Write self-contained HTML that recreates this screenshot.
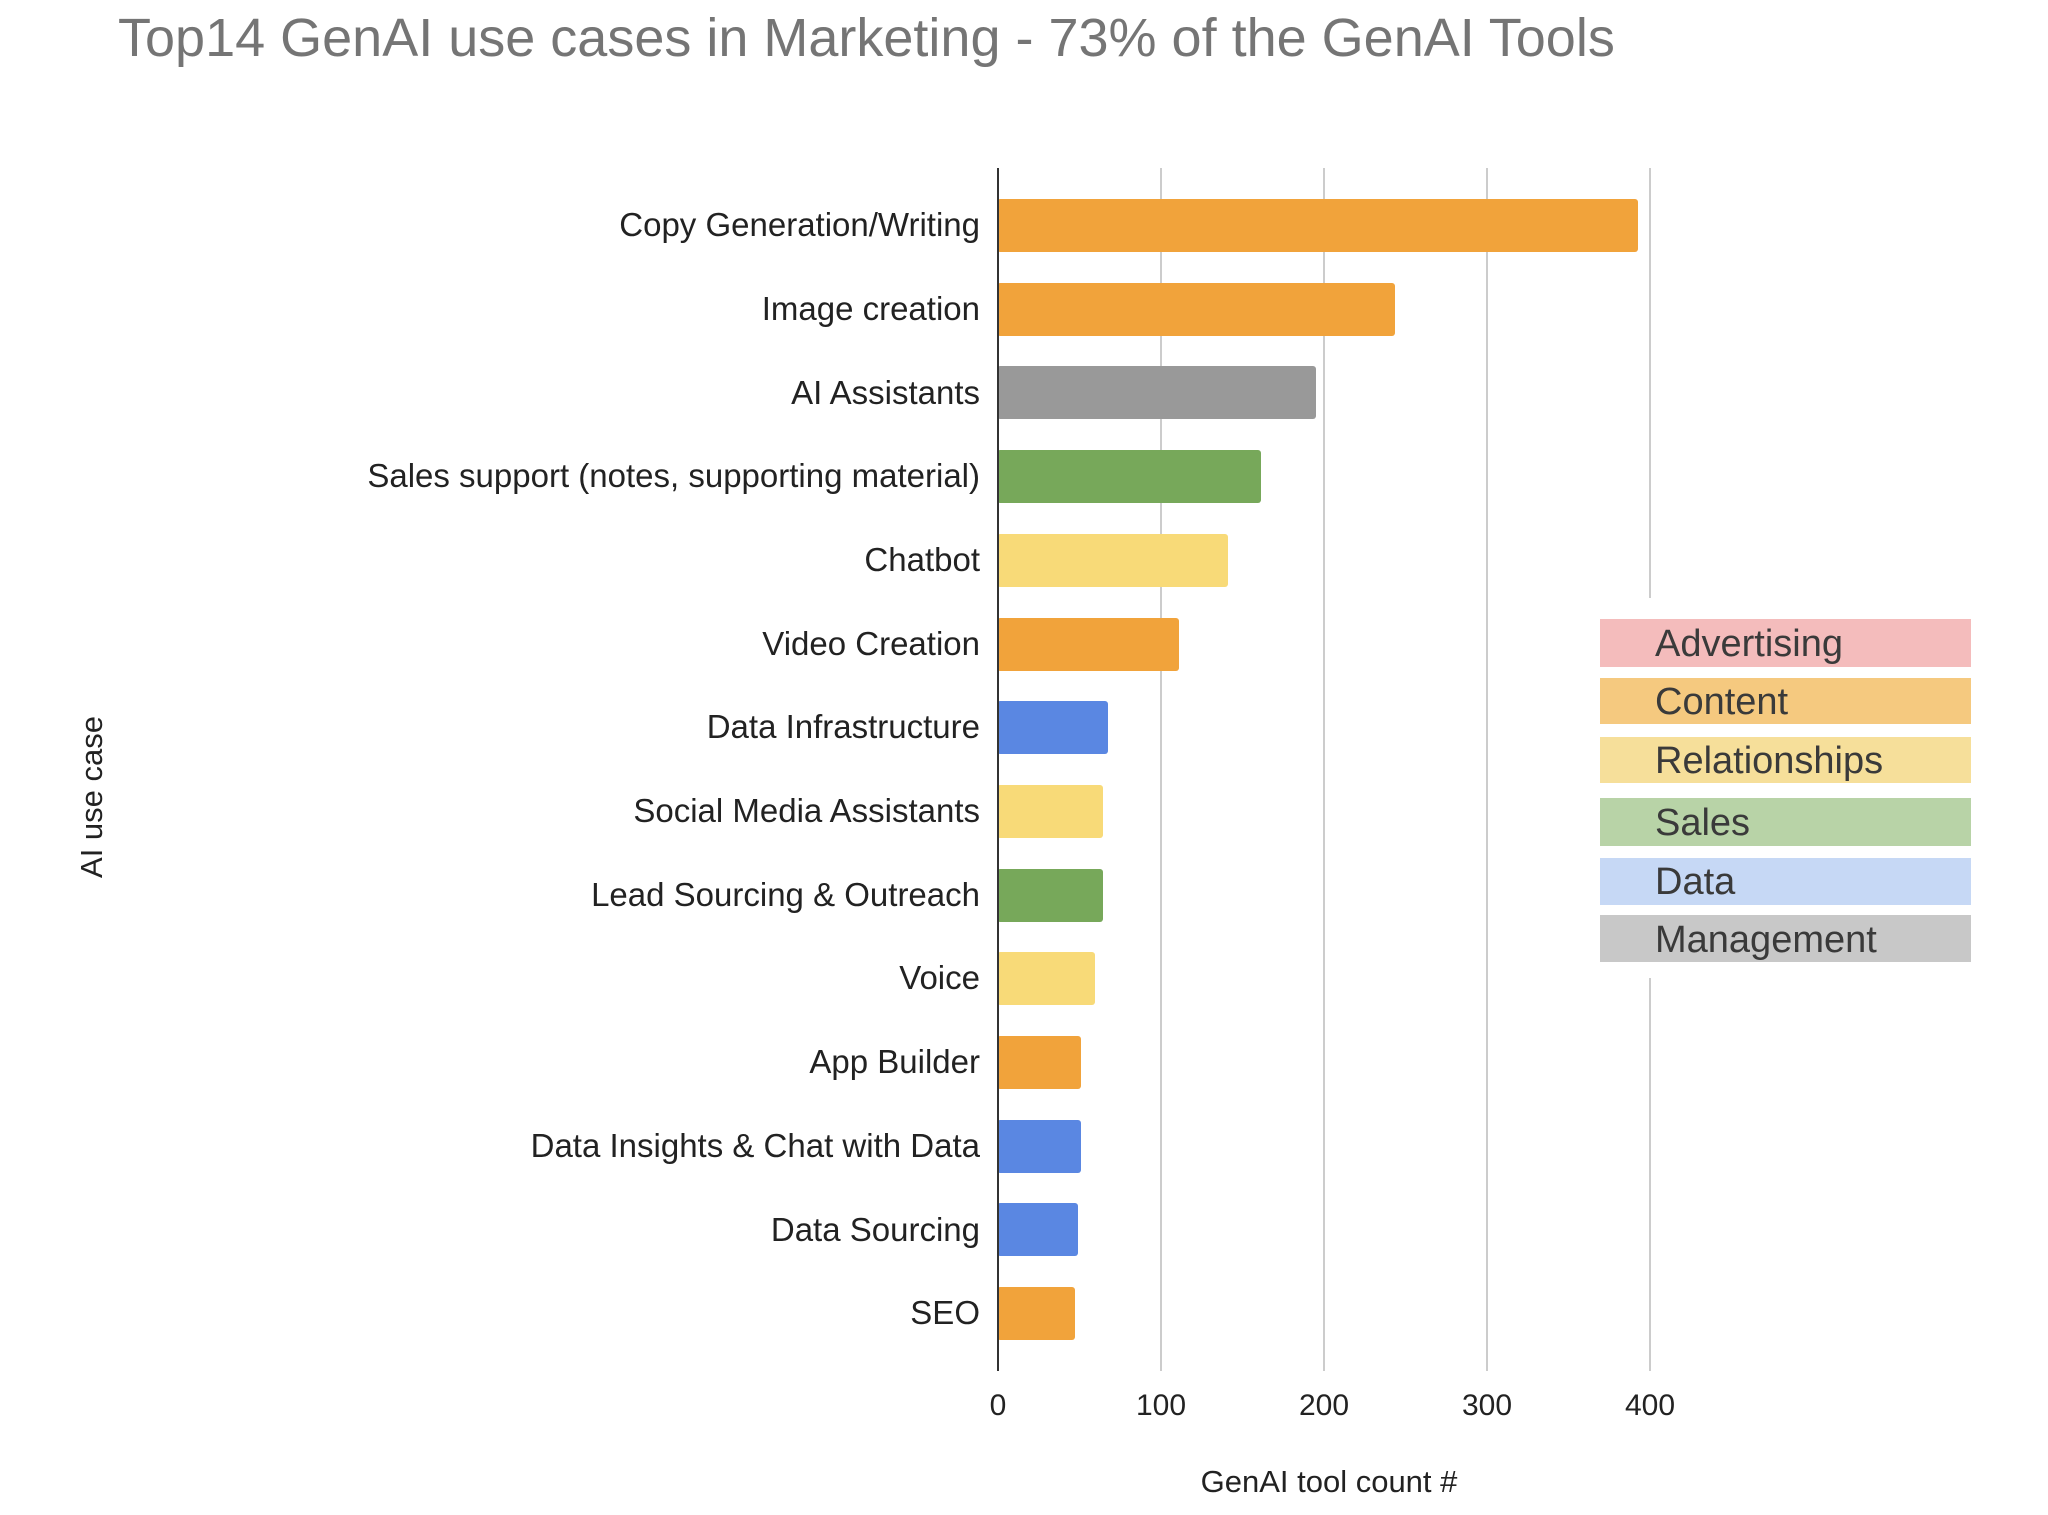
<!DOCTYPE html>
<html><head><meta charset="utf-8"><style>
body{margin:0;background:#fff}
svg{display:block}
text{font-family:"Liberation Sans",sans-serif}
</style></head><body>
<svg width="2048" height="1515" viewBox="0 0 2048 1515">
<rect width="2048" height="1515" fill="#fff"/>
<text x="118" y="56" font-size="54" fill="#757575">Top14 GenAI use cases in Marketing - 73% of the GenAI Tools</text>
<g stroke="#cccccc" stroke-width="2">
<line x1="1161" y1="168" x2="1161" y2="1371"/>
<line x1="1324" y1="168" x2="1324" y2="1371"/>
<line x1="1487" y1="168" x2="1487" y2="1371"/>
<line x1="1650" y1="168" x2="1650" y2="1371"/>
</g>
<g font-size="30" fill="#222" text-anchor="middle">
<text x="998" y="1415">0</text><text x="1161" y="1415">100</text><text x="1324" y="1415">200</text><text x="1487" y="1415">300</text><text x="1650" y="1415">400</text>
</g>
<text x="1329" y="1500" font-size="31" fill="#222" text-anchor="middle" dy="-8">GenAI tool count #</text>
<text transform="translate(102,797) rotate(-90)" font-size="31" fill="#222" text-anchor="middle">AI use case</text>
<rect x="1600" y="598" width="90" height="380" fill="#fff"/>
<g font-size="38" fill="#3a3a3a">
<rect x="1600" y="619" width="371" height="48" fill="#f4bcbc"/><text x="1655" y="656">Advertising</text>
<rect x="1600" y="678" width="371" height="46" fill="#f5c97f"/><text x="1655" y="714">Content</text>
<rect x="1600" y="737" width="371" height="46" fill="#f6df9a"/><text x="1655" y="773">Relationships</text>
<rect x="1600" y="798" width="371" height="48" fill="#b8d3a7"/><text x="1655" y="835">Sales</text>
<rect x="1600" y="858" width="371" height="47" fill="#c6d8f5"/><text x="1655" y="894">Data</text>
<rect x="1600" y="915" width="371" height="47" fill="#c8c8c8"/><text x="1655" y="952">Management</text>
</g>
<g font-size="33" fill="#222" text-anchor="end">
<text x="980" y="236">Copy Generation/Writing</text>
<text x="980" y="320">Image creation</text>
<text x="980" y="404">AI Assistants</text>
<text x="980" y="487">Sales support (notes, supporting material)</text>
<text x="980" y="571">Chatbot</text>
<text x="980" y="655">Video Creation</text>
<text x="980" y="738">Data Infrastructure</text>
<text x="980" y="822">Social Media Assistants</text>
<text x="980" y="906">Lead Sourcing &amp; Outreach</text>
<text x="980" y="989">Voice</text>
<text x="980" y="1073">App Builder</text>
<text x="980" y="1157">Data Insights &amp; Chat with Data</text>
<text x="980" y="1241">Data Sourcing</text>
<text x="980" y="1324">SEO</text>
</g>
<g>
<rect x="997" y="199" width="641" height="53" rx="3" fill="#f1a33b"/>
<rect x="997" y="283" width="398" height="53" rx="3" fill="#f1a33b"/>
<rect x="997" y="366" width="319" height="53" rx="3" fill="#999999"/>
<rect x="997" y="450" width="264" height="53" rx="3" fill="#77a85a"/>
<rect x="997" y="534" width="231" height="53" rx="3" fill="#f8da78"/>
<rect x="997" y="618" width="182" height="53" rx="3" fill="#f1a33b"/>
<rect x="997" y="701" width="111" height="53" rx="3" fill="#5a87e2"/>
<rect x="997" y="785" width="106" height="53" rx="3" fill="#f8da78"/>
<rect x="997" y="869" width="106" height="53" rx="3" fill="#77a85a"/>
<rect x="997" y="952" width="98" height="53" rx="3" fill="#f8da78"/>
<rect x="997" y="1036" width="84" height="53" rx="3" fill="#f1a33b"/>
<rect x="997" y="1120" width="84" height="53" rx="3" fill="#5a87e2"/>
<rect x="997" y="1203" width="81" height="53" rx="3" fill="#5a87e2"/>
<rect x="997" y="1287" width="78" height="53" rx="3" fill="#f1a33b"/>
</g>
<line x1="998" y1="168" x2="998" y2="1371" stroke="#333" stroke-width="2"/>
</svg>
</body></html>
